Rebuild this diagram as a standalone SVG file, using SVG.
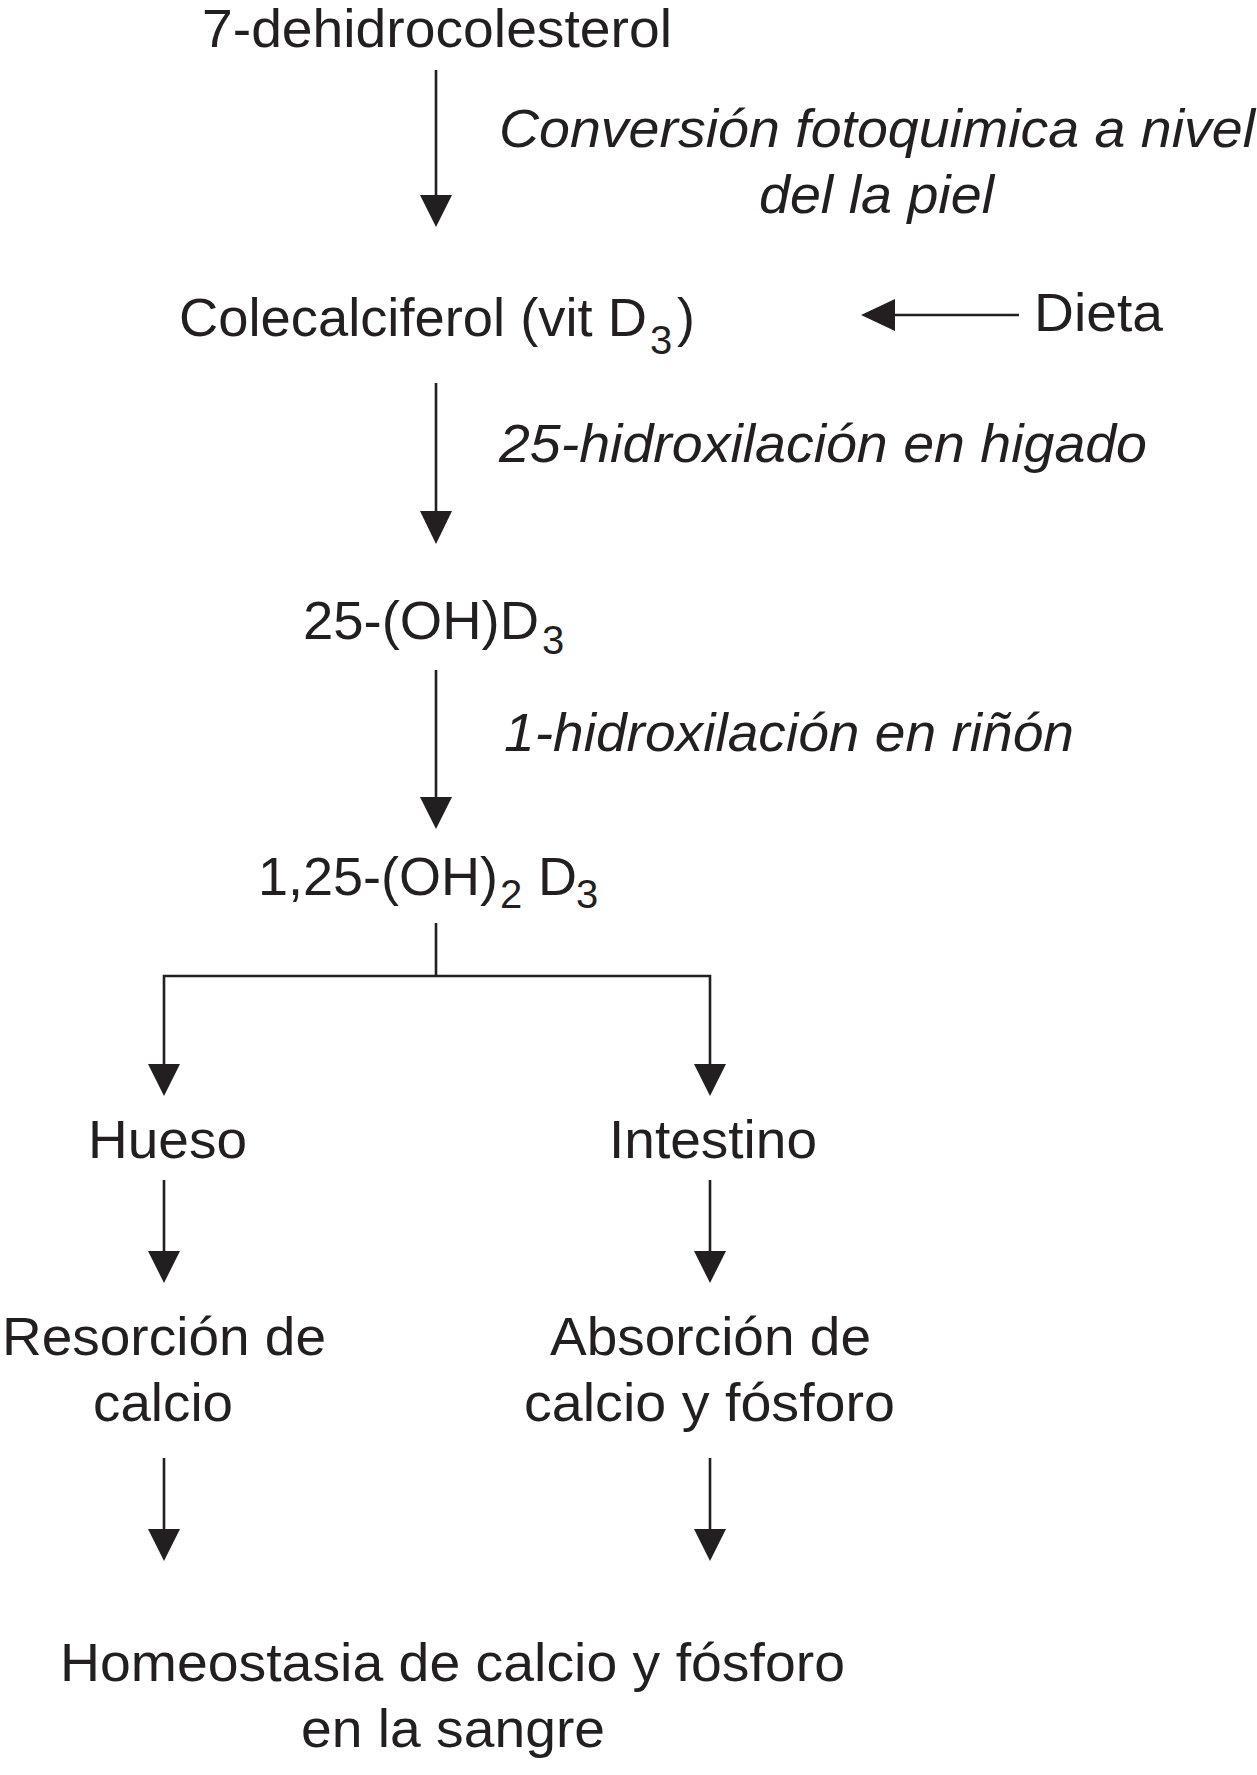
<svg xmlns="http://www.w3.org/2000/svg" width="1257" height="1775" viewBox="0 0 1257 1775">
<style>
.t{font-family:"Liberation Sans",Arial,Helvetica,sans-serif;font-size:54px;fill:#231f20}
.i{font-style:italic}
.s{font-size:40px}
.ln{stroke:#231f20;stroke-width:2.6;fill:none}
.hd{fill:#231f20}
</style>
<rect width="1257" height="1775" fill="#ffffff"/>
<g id="n1"><text class="t" x="202" y="47" textLength="470" lengthAdjust="spacingAndGlyphs">7-dehidrocolesterol</text></g>
<g id="lbl1"><text class="t i" x="499" y="147" textLength="756" lengthAdjust="spacingAndGlyphs">Conversión fotoquimica a nivel</text>
<text class="t i" x="759" y="213" textLength="235" lengthAdjust="spacingAndGlyphs">del la piel</text></g>
<g id="n2"><text class="t" x="179" y="336"><tspan textLength="468" lengthAdjust="spacingAndGlyphs">Colecalciferol (vit D</tspan><tspan class="s" x="650" y="354">3</tspan><tspan x="677" y="336">)</tspan></text></g>
<g id="n3"><text class="t" x="1034" y="331" textLength="129" lengthAdjust="spacingAndGlyphs">Dieta</text></g>
<g id="lbl2"><text class="t i" x="499" y="462" textLength="648" lengthAdjust="spacingAndGlyphs">25-hidroxilación en higado</text></g>
<g id="n4"><text class="t" x="303" y="639"><tspan textLength="236" lengthAdjust="spacingAndGlyphs">25-(OH)D</tspan><tspan class="s" x="542" y="654">3</tspan></text></g>
<g id="lbl3"><text class="t i" x="504" y="751" textLength="570" lengthAdjust="spacingAndGlyphs">1-hidroxilación en riñón</text></g>
<g id="n5"><text class="t" x="258" y="895"><tspan textLength="240" lengthAdjust="spacingAndGlyphs">1,25-(OH)</tspan><tspan class="s" x="500" y="908">2</tspan><tspan x="538" y="895">D</tspan><tspan class="s" x="576" y="908">3</tspan></text></g>
<g id="n6"><text class="t" x="88" y="1158" textLength="159" lengthAdjust="spacingAndGlyphs">Hueso</text></g>
<g id="n7"><text class="t" x="609" y="1158" textLength="208" lengthAdjust="spacingAndGlyphs">Intestino</text></g>
<g id="n8"><text class="t" x="2" y="1355" textLength="324" lengthAdjust="spacingAndGlyphs">Resorción de</text>
<text class="t" x="93" y="1421" textLength="140" lengthAdjust="spacingAndGlyphs">calcio</text></g>
<g id="n9"><text class="t" x="550" y="1355" textLength="321" lengthAdjust="spacingAndGlyphs">Absorción de</text>
<text class="t" x="524" y="1421" textLength="371" lengthAdjust="spacingAndGlyphs">calcio y fósforo</text></g>
<g id="n10"><text class="t" x="60" y="1681" textLength="785" lengthAdjust="spacingAndGlyphs">Homeostasia de calcio y fósforo</text>
<text class="t" x="301" y="1747" textLength="304" lengthAdjust="spacingAndGlyphs">en la sangre</text></g>
<g id="connectors">
<line class="ln" x1="436" y1="70" x2="436" y2="200"/><polygon class="hd" points="420,195 452,195 436,227"/>
<line class="ln" x1="1019" y1="315" x2="890" y2="315"/><polygon class="hd" points="895,299 895,331 861,315"/>
<line class="ln" x1="436" y1="383" x2="436" y2="515"/><polygon class="hd" points="420,511 452,511 436,544"/>
<line class="ln" x1="436" y1="670" x2="436" y2="800"/><polygon class="hd" points="420,797 452,797 436,829"/>
<polyline class="ln" points="436,923 436,976"/>
<polyline class="ln" points="164,1070 164,976 710,976 710,1070"/>
<polygon class="hd" points="148,1064 180,1064 164,1096"/>
<polygon class="hd" points="694,1064 726,1064 710,1096"/>
<line class="ln" x1="164" y1="1180" x2="164" y2="1255"/><polygon class="hd" points="148,1251 180,1251 164,1283"/>
<line class="ln" x1="710" y1="1180" x2="710" y2="1255"/><polygon class="hd" points="694,1251 726,1251 710,1283"/>
<line class="ln" x1="164" y1="1458" x2="164" y2="1533"/><polygon class="hd" points="148,1529 180,1529 164,1561"/>
<line class="ln" x1="710" y1="1458" x2="710" y2="1533"/><polygon class="hd" points="694,1529 726,1529 710,1561"/>
</g>
</svg>
